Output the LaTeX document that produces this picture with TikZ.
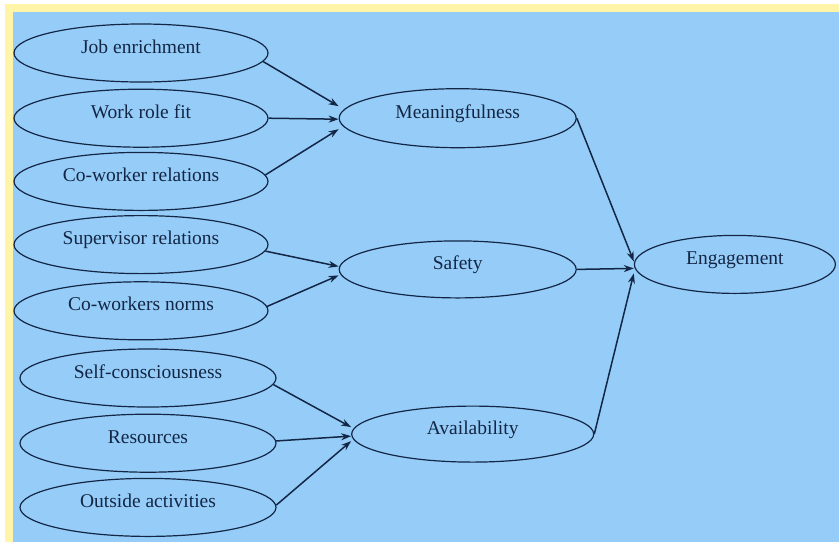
\documentclass[tikz,border=0pt]{standalone}
\usepackage{fontspec}
\setmainfont{Liberation Serif}
\usetikzlibrary{positioning}
\usetikzlibrary{shapes.geometric}
\usetikzlibrary{arrows.meta}

\definecolor{bluebg}{HTML}{96CDF8}
\definecolor{glow}{HTML}{FFF4A8}
\definecolor{ink}{HTML}{132645}

\begin{document}
\begin{tikzpicture}[x=1pt, y=-1pt,
    >={Stealth[length=10pt, width=7pt]},
    factor/.style={draw=ink, ellipse, line width=1.2pt, text=ink, inner sep=0pt,
        font=\fontsize{19.5}{22}\selectfont, text height=12pt, text depth=12pt},
    arc/.style={->, draw=ink, line width=1.5pt}]

    \useasboundingbox (0,0) rectangle (839,542);
    \fill[white] (0,0) rectangle (839,542);
    \fill[glow] (5,4) rectangle (839,542);
    \fill[bluebg] (13,12) rectangle (839,542);

    \node[factor, minimum width=254pt, minimum height=58pt] (job) at (141,53) {Job enrichment};
    \node[factor, minimum width=254pt, minimum height=58pt, below=6pt of job] (fit) {Work role fit};
    \node[factor, minimum width=254pt, minimum height=58pt, below=4pt of fit] (cowork) {Co-worker relations};
    \node[factor, minimum width=254pt, minimum height=58pt, below=4pt of cowork] (superv) {Supervisor relations};
    \node[factor, minimum width=254pt, minimum height=58pt, below=7pt of superv] (norms) {Co-workers norms};
    \node[factor, minimum width=256pt, minimum height=58pt, below=8pt of norms, xshift=7pt] (selfc) {Self-consciousness};
    \node[factor, minimum width=256pt, minimum height=58pt, below=6pt of selfc] (resrc) {Resources};
    \node[factor, minimum width=256pt, minimum height=58pt, below=5pt of resrc] (outside) {Outside activities};

    \node[factor, minimum width=237pt, minimum height=59pt, right=70pt of fit] (mean) {Meaningfulness};
    \node[factor, minimum width=237pt, minimum height=57pt, below=92pt of mean] (safety) {Safety};
    \node[factor, minimum width=242pt, minimum height=56pt, below=107pt of safety, xshift=15pt] (avail) {Availability};

    \node[factor, minimum width=201pt, minimum height=58pt, right=57pt of safety, yshift=5pt] (engage) {Engagement};

    \draw[arc] (job.-4) -- ([yshift=12pt]mean.west);
    \draw[arc] (fit.east) -- ([yshift=-1pt]mean.west);
    \draw[arc] (cowork.3) -- ([yshift=-11pt]mean.west);
    \draw[arc] (superv.-3) -- ([yshift=3pt]safety.west);
    \draw[arc] (norms.2) -- ([yshift=-6pt]safety.west);
    \draw[arc] (selfc.-3) -- ([yshift=7pt]avail.west);
    \draw[arc] (resrc.1) -- ([yshift=-2pt]avail.west);
    \draw[arc] (outside.1) -- ([yshift=-7pt]avail.west);
    \draw[arc] (mean.east) -- ([yshift=3pt]engage.west);
    \draw[arc] (safety.east) -- ([yshift=-4pt]engage.west);
    \draw[arc] (avail.east) -- ([yshift=-9pt]engage.west);

\end{tikzpicture}
\end{document}
